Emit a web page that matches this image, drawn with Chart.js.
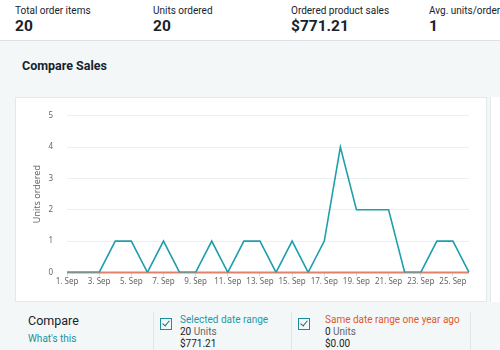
<!DOCTYPE html>
<html>
<head>
<meta charset="utf-8">
<script src="https://cdn.jsdelivr.net/npm/chart.js@4/dist/chart.umd.min.js"></script>
<style>
  html, body { margin: 0; padding: 0; }
  body { width: 500px; height: 350px; overflow: hidden; background: #f4f7f8; font-family: Roboto, "Noto Sans", sans-serif; color: #16232e; position: relative; }
  .top { position: absolute; left: 0; top: 0; width: 500px; height: 40px; background: #fff; border-bottom: 1px solid #dde3e5; }
  .kpi { position: absolute; top: 4px; }
  .kpi .lbl { font-size: 10px; line-height: 14px; white-space: nowrap; }
  .kpi .val { font-size: 15.5px; font-weight: bold; line-height: 16px; }
  .title { position: absolute; left: 22px; top: 58px; font-size: 12.5px; font-weight: bold; }
  .card { position: absolute; left: 15px; top: 97px; width: 472px; height: 205px; background: #fff; border: 1px solid #e3e8ea; box-sizing: border-box; }
  .side { position: absolute; left: 490px; top: 97px; width: 10px; height: 205px; background: #fff; border-left: 1px solid #e3e8ea; }
  canvas { position: absolute; left: 15px; top: 97px; }
  .cmp { position: absolute; top: 312px; font-size: 10px; white-space: nowrap; }
  .div { position: absolute; top: 312px; width: 1px; height: 38px; background: #e0e5e7; }
  .box { position: absolute; top: 318px; width: 12px; height: 12px; border: 1px solid #1d8f9c; box-sizing: border-box; }
  .box:after { content: ""; position: absolute; left: 3px; top: 0px; width: 3px; height: 6px; border: solid #1d6f7a; border-width: 0 1.5px 1.5px 0; transform: rotate(40deg); }
</style>
</head>
<body>
<div class="top">
  <div class="kpi" style="left:15px"><div class="lbl">Total order items</div><div class="val">20</div></div>
  <div class="kpi" style="left:153px"><div class="lbl">Units ordered</div><div class="val">20</div></div>
  <div class="kpi" style="left:291px"><div class="lbl">Ordered product sales</div><div class="val">$771.21</div></div>
  <div class="kpi" style="left:429px"><div class="lbl">Avg. units/order item</div><div class="val">1</div></div>
</div>
<div class="title">Compare Sales</div>
<div class="card"></div>
<div class="side"></div>
<canvas id="salesChart" width="472" height="205"></canvas>

<div class="cmp" style="left:28px; top:313px; font-size:12.5px;">Compare</div>
<div class="cmp" style="left:28px; top:333px; color:#1d8f9c; font-size:10px;">What's this</div>
<div class="div" style="left:153px"></div>
<div class="box" style="left:160px"></div>
<div class="cmp" style="left:180px; top:314px; color:#1d9aa7;">Selected date range</div>
<div class="cmp" style="left:180px; top:326px; color:#666;"><span style="color:#222">20</span> Units</div>
<div class="cmp" style="left:180px; top:338px; color:#222;">$771.21</div>
<div class="div" style="left:291px"></div>
<div class="box" style="left:298px"></div>
<div class="cmp" style="left:325px; top:314px; color:#e0582c;">Same date range one year ago</div>
<div class="cmp" style="left:325px; top:326px; color:#666;"><span style="color:#222">0</span> Units</div>
<div class="cmp" style="left:325px; top:338px; color:#222;">$0.00</div>
<div class="div" style="left:470px"></div>

<script>
// days 1..26 of September
const days = ['1. Sep', '2. Sep', '3. Sep', '4. Sep', '5. Sep', '6. Sep', '7. Sep', '8. Sep', '9. Sep',
  '10. Sep', '11. Sep', '12. Sep', '13. Sep', '14. Sep', '15. Sep', '16. Sep', '17. Sep', '18. Sep',
  '19. Sep', '20. Sep', '21. Sep', '22. Sep', '23. Sep', '24. Sep', '25. Sep', '26. Sep'];
const selectedUnits = [0, 0, 0, 1, 1, 0, 1, 0, 0, 1, 0, 1, 1, 0, 1, 0, 1, 4, 2, 2, 2, 0, 0, 1, 1, 0];
const lastYearUnits = [0, 0, 0, 0, 0, 0, 0, 0, 0, 0, 0, 0, 0, 0, 0, 0, 0, 0, 0, 0, 0, 0, 0, 0, 0, 0];
const yTicks = [0, 1, 2, 3, 4, 5];

const tickFont = { family: '"Noto Sans", sans-serif', size: 8 };

const ctx = document.getElementById('salesChart').getContext('2d');
new Chart(ctx, {
  type: 'line',
  data: {
    labels: days,
    datasets: [
      {
        label: 'Selected date range',
        data: selectedUnits,
        borderColor: '#1e9fac',
        borderWidth: 1.6,
        pointRadius: 0,
        tension: 0,
        order: 1
      },
      {
        label: 'Same date range one year ago',
        data: lastYearUnits,
        borderColor: '#e0826a',
        borderWidth: 2,
        pointRadius: 0,
        tension: 0,
        clip: 4,
        order: 2
      }
    ]
  },
  options: {
    responsive: false,
    animation: false,
    layout: { padding: { left: 17, right: 18, top: 18, bottom: 14 } },
    plugins: { legend: { display: false }, tooltip: { enabled: false } },
    scales: {
      x: {
        offset: false,
        grid: {
          drawOnChartArea: false,
          tickLength: 4,
          tickColor: c => (c.index % 2 === 0 ? '#d8dde0' : 'rgba(0,0,0,0)')
        },
        border: { display: false },
        ticks: {
          autoSkip: false,
          maxRotation: 0,
          color: '#666',
          font: tickFont,
          padding: 1,
          callback: (v, i) => (i % 2 === 0 ? days[i] : '')
        }
      },
      y: {
        min: 0,
        max: 5,
        afterBuildTicks: s => { s.ticks = yTicks.map(v => ({ value: v })); },
        afterFit: s => { s.width = 35; },
        grid: { color: '#eceff1', drawTicks: false },
        border: { display: false },
        ticks: { color: '#666', font: tickFont, padding: 14 },
        title: {
          display: true,
          text: 'Units ordered',
          color: '#666',
          font: { family: '"Noto Sans", sans-serif', size: 9 },
          padding: { top: 0, bottom: 0 }
        }
      }
    }
  }
});
</script>
</body>
</html>
